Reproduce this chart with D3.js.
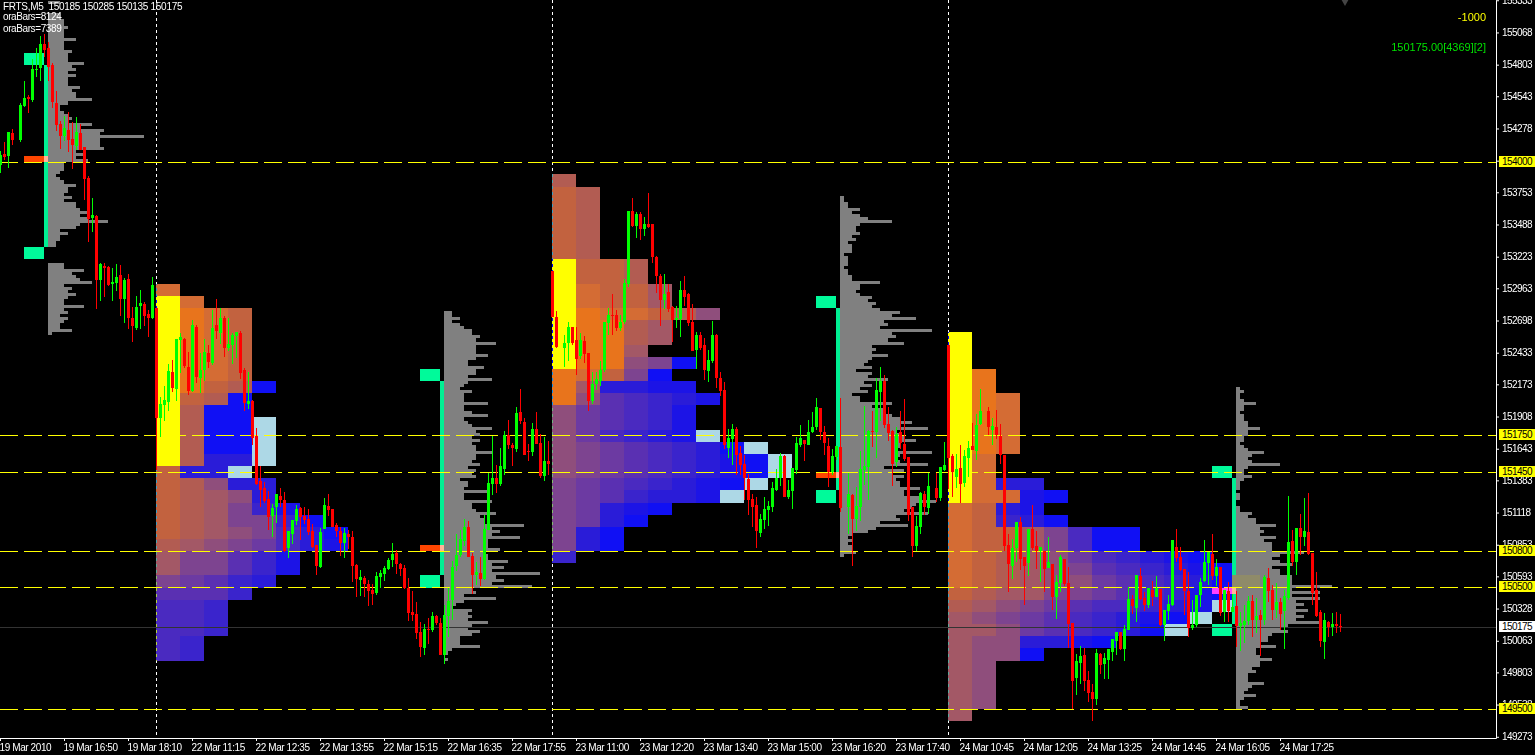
<!DOCTYPE html>
<html>
<head>
<meta charset="utf-8">
<title>FRTS,M5</title>
<script src="https://cdnjs.cloudflare.com/ajax/libs/d3/7.8.5/d3.min.js"></script>
<style>
  html, body { margin: 0; background: #000; overflow: hidden; }
  svg { display: block; }
  text { font-family: "Liberation Sans", Arial, sans-serif; font-size: 10px; letter-spacing: -0.4px; }
  .cell, .hist, .mark, .body, .wick { shape-rendering: crispEdges; }
</style>
</head>
<body>
<div id="chart"></div>
<script>
// candles: [open, high, low, close], null where no bar shows on the picture
const bars19Mar = [
  [153980,154095,153910,154060],[154070,154165,154020,154045],[154050,154250,153955,154250],[154240,154275,154140,154185],null,
  [154185,154490,154165,154470],[154465,154670,154455,154530],[154535,154555,154405,154520],[154510,154850,154495,154765],[154760,154940,154700,154765],
  [154775,155040,154670,154975],[154975,155055,154865,154925],[154940,154990,154670,154785],[154800,154815,154445,154495],[154490,154585,154255,154305],
  [154315,154340,154110,154215],[154215,154380,154175,154280],[154265,154415,154085,154185],[154190,154330,153945,154140],[154135,154370,154100,154250],
  [154240,154315,154100,154100],[154125,154125,153690,153860],[153870,153885,153345,153535],[153540,153705,153425,153565],[153560,153565,152795,153030],
  [153030,153170,152860,153165],[153145,153170,152890,153130],[153140,153145,152985,152990],[153000,153130,152860,153015],[153005,153165,152940,153055],
  [153075,153155,152735,152875],[152875,153050,152680,153030],[153040,153080,152630,152720],[152720,152810,152520,152655],[152635,152900,152620,152810],
  [152815,152950,152630,152840],[152835,152850,152655,152735],[152750,152785,152560,152720],[152720,153055,152710,152990]
];
const bars22Mar = [
  [152800,152800,151470,151895],[151895,152070,151740,152010],[152005,152160,151870,152045],[152030,152340,151955,152285],[152275,152375,152110,152145],
  [152135,152545,152035,152545],[152540,152595,152265,152560],[152545,152555,152305,152325],[152315,152440,152085,152120],[152120,152700,152110,152660],
  [152645,152660,152185,152235],[152225,152430,152100,152290],[152290,152545,152200,152440],[152430,152495,152305,152355],[152350,152785,152330,152635],
  [152660,152875,152545,152610],[152595,152800,152505,152720],[152720,152735,152400,152470],[152470,152720,152445,152505],[152495,152595,152340,152580],
  [152570,152605,152390,152605],[152595,152610,152215,152265],[152290,152305,151955,152020],[152010,152275,151970,152035],[152035,152045,151675,151730],
  [151750,151815,151345,151355],[151380,151500,151165,151305],[151320,151370,151195,151215],[151230,151295,150975,151080],[151090,151190,150915,151155],
  [151165,151270,151030,151270],[151255,151320,151165,151220],[151220,151285,150795,150800],[150825,150965,150745,150965],[150940,151055,150860,151055],
  [151050,151180,151015,151145],[151155,151165,150890,151080],[151090,151165,151025,151055],[151065,151145,150935,150960],[150965,151025,150825,150835],
  [150850,150850,150605,150680],[150670,150990,150660,150960],[150985,151240,150985,151180],[151170,151270,151090,151140],[151145,151145,151000,151000],
  [151015,151030,150915,150965],[150965,151000,150760,150870],[150870,150990,150745,150950],[150940,150975,150820,150915],[150915,150965,150545,150680],
  [150685,150695,150425,150570],[150565,150645,150430,150590],[150580,150595,150425,150530],[150530,150565,150350,150475],[150480,150530,150360,150450],
  [150455,150630,150440,150595],[150590,150645,150495,150620],[150615,150680,150555,150660],[150655,150745,150645,150730],[150730,150870,150670,150775],
  [150785,150810,150615,150695],[150695,150705,150595,150655],[150660,150685,150490,150495],[150495,150580,150225,150290],[150300,150475,150225,150275],
  [150285,150380,150080,150125],[150135,150220,149930,150010],[150005,150200,149945,150160],[150160,150250,150035,150150],[150150,150300,150135,150265],
  [150265,150275,150195,150210],[150210,150250,149945,149945],[149945,150360,149870,150275],[150265,150495,150095,150390],[150400,150720,150235,150670],
  [150680,150940,150635,150770],[150770,150975,150755,150900],[150885,151065,150845,151000],[151000,151050,150755,150755],[150760,150785,150450,150605],
  [150605,150710,150520,150630],[150620,150755,150515,150570],[150570,151100,150565,150985],[150975,151445,150975,151360],[151355,151750,151265,151400],
  [151400,151510,151280,151355],[151355,151650,151335,151500],[151475,151790,151425,151755],[151755,151880,151640,151675],[151675,151690,151500,151650],
  [151640,151985,151615,151935],[151945,152135,151845,151870],[151865,151895,151590,151590],[151625,151680,151540,151615],[151615,151855,151585,151805],
  [151805,151945,151680,151680],[151690,151765,151400,151420],[151420,151740,151380,151540],[151540,151705,151425,151520]
];
const bars23Mar = [
  [153105,153105,152725,152725],[152725,152775,152470,152480],null,[152470,152580,152315,152515],[152515,152685,152365,152645],
  [152645,152645,152495,152515],[152540,152645,152250,152380],[152405,152595,152380,152540],[152530,152570,152350,152425],[152430,152430,151955,152035],
  [152035,152275,152010,152175],[152175,152275,152125,152215],[152200,152365,152160,152290],[152290,152685,152275,152685],[152680,152800,152580,152745],
  [152745,152915,152580,152735],[152745,152785,152610,152635],[152635,152745,152610,152685],[152685,153040,152670,153005],[153000,153600,152975,153600],
  [153600,153705,153465,153475],[153475,153590,153375,153575],[153575,153590,153360,153450],[153450,153550,153395,153490],[153490,153745,153460,153465],
  [153490,153490,153170,153220],[153220,153230,152925,153065],[153065,153080,152655,152865],[152865,153080,152795,152915],[152935,153000,152770,152795],
  [152810,152815,152520,152700],[152700,152815,152635,152720],[152710,153025,152560,152950],[152950,153065,152815,152890],[152915,152925,152655,152680],
  [152685,152835,152445,152445],[152455,152605,152300,152580],[152580,152605,152455,152470],[152495,152555,152210,152290],[152285,152455,152190,152375],
  [152365,152695,152350,152580],[152580,152590,152145,152225],[152225,152275,152075,152120],[152125,152190,151640,151675],[151650,151805,151565,151730],
  [151725,151845,151510,151805],[151805,151820,151425,151590],[151610,151665,151425,151510],[151520,151590,151220,151400],[151395,151435,151100,151220],
  [151230,151270,151000,151165],[151180,151245,150825,150965],[150950,151105,150915,151065],[151055,151245,150985,151145],[151140,151215,151010,151170],
  [151165,151370,151125,151320],[151305,151475,151295,151400],[151400,151610,151335,151585],[151585,151590,151245,151245],[151245,151385,151230,151305],
  [151295,151485,151145,151485],[151470,151740,151435,151690],[151675,151840,151655,151730],[151715,151715,151540,151680],[151675,151880,151675,151780],
  [151780,151945,151775,151820],[151820,152060,151795,151985],[151980,151980,151715,151780],[151780,151830,151590,151690],[151665,151730,151330,151450],
  [151450,151640,151425,151585],[151575,151665,151550,151665],[151655,152060,151125,151155],null,[151165,151445,150940,151270],
  [151265,151270,150680,151065],[151065,151330,150965,151170],[151165,151625,151050,151475],[151470,151995,151345,151500],[151495,151795,151220,151790],
  [151790,151955,151655,151780],[151780,152225,151565,152125],[152110,152315,151870,152200],[152200,152250,151815,151840],[151845,151985,151705,151775],
  [151790,151795,151335,151520],[151535,151820,151495,151765],[151780,151955,151640,151690],[151680,152050,151545,151560],[151575,151575,151050,151100],
  [151165,151165,150755,150845],[150845,151090,150800,151010],[151000,151285,150940,151280],[151270,151295,151100,151165],[151155,151445,151105,151335],
  null,[151320,151445,151205,151240],[151240,151495,151215,151495],[151465,151700,151460,151510]
];
const bars24Mar = [
  [152495,152495,151310,151565],[151585,151600,151245,151450],[151410,151600,151320,151475],[151485,151675,151195,151355],[151360,151635,151330,151585],
  [151565,151705,151410,151650],[151665,151855,151635,151635],[151625,151930,151550,151840],[151845,152135,151840,151955],null,
  [151955,151985,151755,151820],[151795,151895,151675,151830],[151820,151960,151725,151755],[151750,151845,151520,151590],[151590,151590,150800,150845],
  [150850,150940,150465,150695],[150680,150900,150570,150825],[150825,151040,150710,151040],[151040,151080,150645,150735],[150755,150755,150360,150680],
  [150705,150985,150595,150985],[150985,151180,150810,150825],[150845,150965,150655,150800],[150800,150835,150545,150835],[150800,150800,150465,150655],
  [150660,150915,150660,150710],[150695,150695,150315,150425],[150425,150605,150240,150545],[150540,150770,150465,150755],[150735,150735,150515,150530],
  [150540,150670,150005,150200],[150210,150210,149500,149730],[149755,149955,149615,149895],[149880,150020,149710,149940],[149945,150005,149650,149730],
  [149740,149815,149560,149635],[149640,149705,149405,149585],[149585,149995,149535,149965],[149955,149965,149790,149865],[149870,149965,149750,149920],
  [149905,149995,149750,149995],[149970,150080,149895,150080],[150060,150135,149945,150135],[150135,150135,149985,149995],[149995,150195,149895,150160],
  [150150,150505,150150,150405],[150405,150440,150285,150350],[150335,150605,150220,150605],[150595,150660,150400,150405],[150415,150465,150310,150360],
  [150360,150495,150335,150495],[150480,150555,150350,150425],[150425,150595,150425,150495],[150490,150490,150185,150195],[150195,150315,150060,150315],
  [150310,150440,150235,150365],[150360,150890,150350,150890],[150835,150985,150710,150745],[150755,150835,150635,150645],[150655,150655,150275,150475],
  [150475,150630,150095,150170],[150170,150400,150150,150195],[150195,150440,150175,150440],[150440,150580,150340,150545],[150555,150890,150545,150710],
  [150705,150795,150520,150795],[150775,150940,150565,150595],[150595,150735,150515,150670],[150670,150670,150265,150290],[150300,150480,150220,150480],
  [150475,150545,150220,150310],[150300,150450,150300,150340],[150350,150475,150010,150185],[150185,150300,149980,150210],[150195,150360,150045,150225],
  [150225,150430,150195,150390],[150390,150440,150095,150235],[150235,150415,150125,150265],[150275,150315,149940,150235],[150235,150605,150195,150590],
  [150580,150660,150380,150475],[150480,150520,150235,150315],[150315,150540,150250,150380],[150380,150415,150150,150285],[150310,150480,149995,150430],
  [150415,151255,150400,150875],[150885,150975,150680,150710],[150710,150990,150605,150990],[150990,151105,150770,150915],[150915,151240,150845,150965],
  [150960,151280,150770,150775],[150785,150785,150360,150455],[150480,150630,150260,150265],[150300,150315,150010,150060],[150055,150290,149915,150235],
  [150220,150225,150095,150175],[150175,150290,150105,150200],[150200,150300,150130,150185],[150185,150285,150135,150175]
];

// volume histograms, one count per 25 points, top row first
const volume19Mar = [3,0,0,0,3,3,4,4,5,4,4,4,7,4,4,4,6,5,5,5,9,6,7,5,7,5,5,5,8,6,7,7,11,5,3,3,4,5,6,5,11,8,14,13,24,13,13,13,14,7,9,7,10,4,4,4,3,2,3,4,7,5,5,4,6,4,7,7,8,10,8,10,15,8,7,3,5,3,3,2,2,0,0,0,0,0,4,4,9,6,7,8,11,4,6,5,7,5,4,4,9,4,5,3,5,4,3,3,6,1];
const volume22Mar = [2,2,4,2,4,5,7,7,9,8,13,8,8,8,11,8,6,6,10,8,8,6,12,6,5,4,7,5,5,5,11,5,5,7,11,5,6,7,12,8,9,7,9,7,8,8,12,8,8,7,9,6,8,7,8,4,6,6,5,11,5,5,12,7,7,8,13,9,10,10,20,12,14,12,19,11,11,11,14,10,11,11,16,12,15,12,24,13,15,12,22,7,8,5,13,5,3,2,7,6,7,6,11,7,6,9,7,4,4,4,9,2,1,0,1];
const volume23Mar = [1,1,2,2,5,3,5,7,13,5,4,4,5,3,4,2,3,3,3,1,2,2,2,1,2,2,3,3,10,5,5,4,5,8,7,9,8,10,15,13,19,11,12,10,23,13,14,12,16,8,9,8,12,8,7,6,8,4,8,7,12,6,8,5,7,3,5,5,13,8,11,11,13,15,18,15,22,14,15,16,19,15,15,14,23,15,14,15,22,11,16,13,16,14,15,15,20,16,16,20,24,19,18,16,22,14,15,10,17,9,7,3,2,3,2,3,3,4,1];
const volume24Mar = [1,2,1,1,2,5,2,2,1,2,2,3,3,6,3,3,2,2,1,2,3,7,4,3,4,11,3,2,2,4,2,1,1,1,0,1,1,0,0,1,1,4,3,5,5,10,6,7,6,10,7,9,9,9,17,11,9,11,14,9,11,11,14,14,14,24,14,21,14,21,15,17,15,18,15,17,15,21,13,11,13,9,8,8,6,10,5,5,6,9,6,6,4,5,3,3,3,7,4,3,2,5,2,1,1,3];
const volumeTops = [155325,152775,153725,152150];
const volumeBars = [12,111,210,309];

// profile blocks: one string per 100 point row from the top price, one letter per 6 bar column
const profile22Mar = ["b","Yb","Yabc","Yabc","Yabc","Yabc","Yabc","Yabc","Yacdn","Ycdn","Ydnn","YdnnL","YdnnL","YdnnL","YdllL","cllL","cdfll","cdefl","cdegkm","cdeggkn","cdefgjln","defghjlm","eggikm","eggikm","ghikl","iiik","jjk","jjk","jjk","jk","jk"];
const profile23Mar = ["d","cd","cd","cd","cd","cd","cd","Yccd","Yccd","Ybcce","Ybcce","Yabbcdf","Yaade","Yaade","Yaae","Yaafgn","abcgn","aellmm","afijklm","fhijkm","fhijkm","fhjklmL","fghijklnL","fghijklmnL","fghijklmnL","ghijklmnL","ghikllmL","ghlmn","ghln","gln","gln","k"];
const profile24Mar = ["Y","Y","Y","Ya","Ya","Yab","Yab","Yab","Yab","Yab","Yb","Yb","Ybll","Ybbmn","bclm","bckln","bccegjnn","bccegjnn","bcdefhjklmn","bcdefgijklmn","bcdeffhijkln","cdeegghijkmn","defghijjklmL","efghijklmnL","eefhijklnL","effllmn","effn","ef","ef","ef","ef","e"];
const profileTops = [153000,153900,152600];
const profileBars = [39,138,237];
const shades = {
  Y:"#ffff00", a:"#e8741c", b:"#d46c34", c:"#c2623f", d:"#b25c52", e:"#a35866", f:"#8f4e7c", g:"#7d4490",
  h:"#6c3aa2", i:"#5a30b2", j:"#4a2ac0", k:"#3a24cc", l:"#2a1cd8", m:"#1c14e6", n:"#1010f4", L:"#add8e6"
};

// range markers of each profile
const markerBars = [6,105,204,303];
const rangeTops = [154900,152300,152900,151500];
const rangeBottoms = [153300,150600,151300,150200];
const medianPrices = [154050,150850,151450,150500];
const medianColors = ["#ff4500","#ff4500","#ff4500","#ff40ff"];

const levelLines = [154000,151750,151450,150800,150500,149500];
const lastPrice = 150175;
const sessionBreaks = [39,138,237];
const priceTicks = [155333,155068,154803,154543,154278,154013,153753,153488,153223,152963,152698,152433,152173,151908,151643,151383,151118,150853,150593,150328,150063,149803,149538,149273];
const timeLabels = ["19 Mar 2010","19 Mar 16:50","19 Mar 18:10","22 Mar 11:15","22 Mar 12:35","22 Mar 13:55","22 Mar 15:15","22 Mar 16:35","22 Mar 17:55","23 Mar 11:00","23 Mar 12:20","23 Mar 13:40","23 Mar 15:00","23 Mar 16:20","23 Mar 17:40","24 Mar 10:45","24 Mar 12:05","24 Mar 13:25","24 Mar 14:45","24 Mar 16:05","24 Mar 17:25"];

const width = 1535, height = 755;
const x = d3.scaleLinear().domain([0, 374]).range([0, 1496]);
const y = d3.scaleLinear().domain([155335, 149263]).range([0, 738]);

const svg = d3.select("#chart").append("svg").attr("width", width).attr("height", height);
svg.append("rect").attr("width", width).attr("height", height).attr("fill", "#000");

// profile blocks
const cells = [];
[profile22Mar, profile23Mar, profile24Mar].forEach((rows, s) => {
  rows.forEach((row, r) => {
    row.split("").forEach((code, c) => {
      cells.push({ bar: profileBars[s] + c * 6, top: profileTops[s] - r * 100, code });
    });
  });
});
svg.append("g").selectAll("rect").data(cells).enter().append("rect")
  .attr("class", "cell")
  .attr("x", d => x(d.bar))
  .attr("width", d => x(d.bar + 6) - x(d.bar))
  .attr("y", d => y(d.top))
  .attr("height", d => y(d.top - 100) - y(d.top))
  .attr("fill", d => shades[d.code]);

// session separators, inverted over the blocks like the terminal draws them
svg.append("g").selectAll("line").data(sessionBreaks).enter().append("line")
  .attr("x1", d => x(d) + 0.5).attr("x2", d => x(d) + 0.5)
  .attr("y1", 0).attr("y2", 736)
  .attr("stroke", "#fff")
  .attr("stroke-dasharray", "3,3")
  .style("mix-blend-mode", "difference");

// volume histograms
const histRows = [];
[volume19Mar, volume22Mar, volume23Mar, volume24Mar].forEach((vals, s) => {
  vals.forEach((v, r) => {
    if (v > 0) histRows.push({ bar: volumeBars[s], top: volumeTops[s] - r * 25, v });
  });
});
svg.append("g").selectAll("rect").data(histRows).enter().append("rect")
  .attr("class", "hist")
  .attr("x", d => x(d.bar))
  .attr("width", d => x(d.bar + d.v) - x(d.bar))
  .attr("y", d => y(d.top))
  .attr("height", d => y(d.top - 25) - y(d.top))
  .attr("fill", "#808080");

// teal range boxes with the median tag
const marks = svg.append("g");
function mark(bar, bars, top, bottom, color) {
  marks.append("rect").attr("class", "mark")
    .attr("x", x(bar)).attr("width", x(bar + bars) - x(bar))
    .attr("y", y(top)).attr("height", y(bottom) - y(top))
    .attr("fill", color);
}
markerBars.forEach((b, s) => {
  mark(b, 5, rangeTops[s], rangeTops[s] - 100, "#00fa9a");
  mark(b + 5, 1, rangeTops[s] - 100, rangeBottoms[s], "#00ef93");
  mark(b, 5, rangeBottoms[s], rangeBottoms[s] - 100, "#00fa9a");
  mark(b, 5, medianPrices[s], medianPrices[s] - 50, medianColors[s]);
  mark(b + 5, 1, medianPrices[s], medianPrices[s] - 50, "#ffb49a");
});
mark(308, 7, 150600, 150500, "#8f8b69");

// level lines
svg.append("g").selectAll("line").data(levelLines).enter().append("line")
  .attr("x1", 0).attr("x2", x(374))
  .attr("y1", d => Math.floor(y(d)) + 0.5).attr("y2", d => Math.floor(y(d)) + 0.5)
  .attr("stroke", "#ffff00")
  .attr("stroke-dasharray", "18,6");
svg.append("line")
  .attr("x1", 0).attr("x2", x(374))
  .attr("y1", Math.floor(y(lastPrice)) + 0.5).attr("y2", Math.floor(y(lastPrice)) + 0.5)
  .attr("stroke", "#333");

// candles
const candles = [...bars19Mar, ...bars22Mar, ...bars23Mar, ...bars24Mar]
  .map((d, i) => d && { i, open: d[0], high: d[1], low: d[2], close: d[3] })
  .filter(Boolean);
const candleColor = d => d.close >= d.open ? "#00ff00" : "#ff0000";
const bar = svg.append("g").selectAll("g").data(candles).enter().append("g");
bar.append("rect").attr("class", "wick")
  .attr("x", d => x(d.i)).attr("width", 1)
  .attr("y", d => y(d.high))
  .attr("height", d => Math.max(1, y(d.low) - y(d.high)))
  .attr("fill", candleColor);
bar.append("rect").attr("class", "body")
  .attr("x", d => x(d.i) - 1).attr("width", 3)
  .attr("y", d => y(Math.max(d.open, d.close)))
  .attr("height", d => Math.max(1, Math.abs(y(d.open) - y(d.close))))
  .attr("fill", candleColor);

// axes
const xAxis = svg.append("g").attr("transform", "translate(0,738)")
  .call(d3.axisBottom(x)
    .tickValues(timeLabels.map((d, i) => i * 16))
    .tickSize(3).tickSizeOuter(0)
    .tickFormat((d, i) => timeLabels[i]));
xAxis.selectAll("text").attr("y", 13).attr("dy", 0).attr("text-anchor", "start").attr("x", -1);

const yAxis = svg.append("g").attr("transform", "translate(1496,0)")
  .call(d3.axisRight(y)
    .tickValues(priceTicks)
    .tickSize(3).tickSizeOuter(0).tickPadding(3)
    .tickFormat(d3.format("d")));
yAxis.selectAll("text").style("letter-spacing", "-0.55px");

[xAxis, yAxis].forEach(a => {
  a.attr("font-family", null).attr("font-size", null);
  a.selectAll("path, line").attr("stroke", "#fff");
  a.selectAll("text").attr("fill", "#fff");
});

// price tags on the axis
const tags = svg.append("g").selectAll("g").data(levelLines.concat(lastPrice)).enter().append("g")
  .attr("transform", d => `translate(1499,${Math.floor(y(d)) - 6})`);
tags.append("rect").attr("width", 36).attr("height", 11)
  .attr("fill", d => d === lastPrice ? "#fff" : "#ffff00");
tags.append("text").attr("x", 3).attr("y", 9).attr("fill", "#000")
  .style("letter-spacing", "-0.55px").text(d => d);

// corner texts
const label = (tx, ty, str, color, anchor) => svg.append("text")
  .attr("x", tx).attr("y", ty).attr("fill", color).attr("text-anchor", anchor || "start").text(str);
label(3, 10, "FRTS,M5  150185 150285 150135 150175", "#fff").style("white-space", "pre").style("letter-spacing", "-0.3px");
label(3, 20, "oraBars=8124", "#fff");
label(3, 32, "oraBars=7389", "#fff");
label(1486, 21, "-1000", "#ffff00", "end").style("font-size", "11px").style("letter-spacing", "0");
label(1486, 51, "150175.00[4369][2]", "#00e000", "end").style("font-size", "11px").style("letter-spacing", "0");

// small object arrow cut by the top edge
svg.append("path")
  .attr("d", d3.symbol(d3.symbolDiamond, 40)())
  .attr("transform", `translate(${x(336) + 1},0)`)
  .attr("fill", "#444");
</script>
</body>
</html>
